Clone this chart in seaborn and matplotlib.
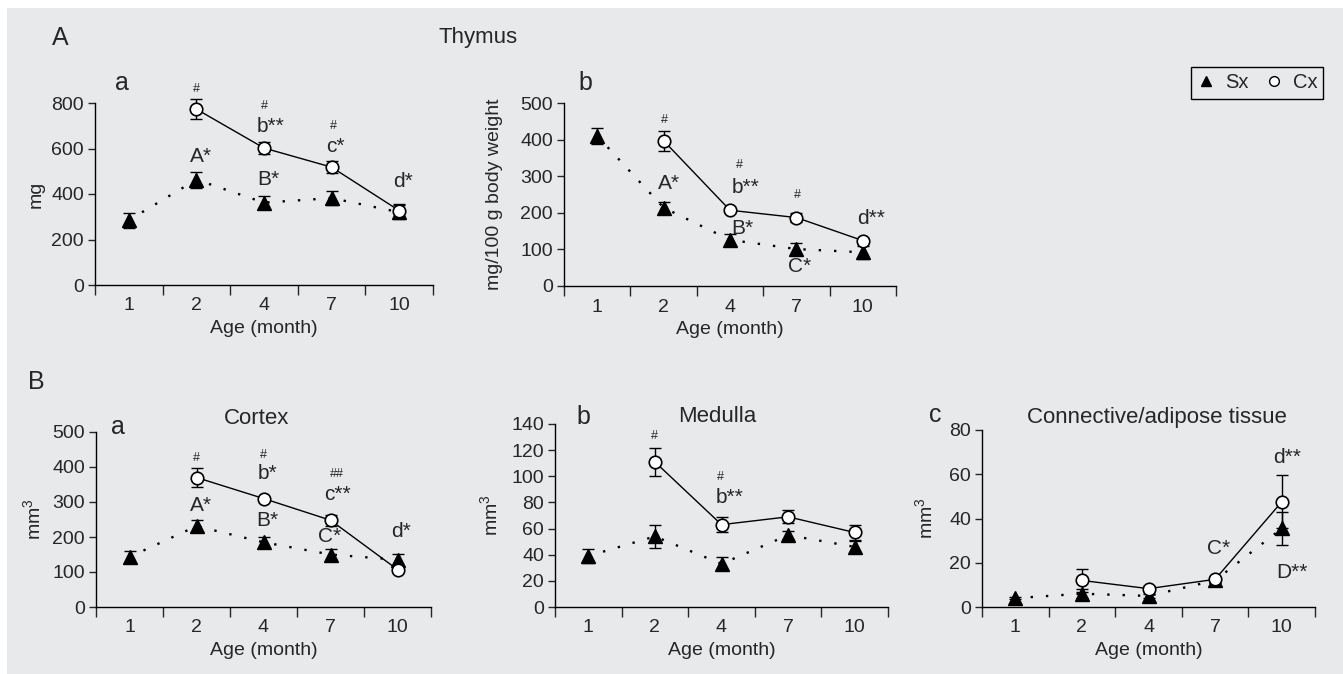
import numpy as np
import pandas as pd
import seaborn as sns
import matplotlib.pyplot as plt
from matplotlib.lines import Line2D
from matplotlib.patches import Rectangle

sns.set_style("ticks")
plt.rcParams['font.family'] = ['Liberation Sans', 'DejaVu Sans']
plt.rcParams['mathtext.fontset'] = 'custom'
plt.rcParams['mathtext.rm'] = 'Liberation Sans'

# Data
months = ["1", "2", "4", "7", "10"]

# A a: thymus weight (mg)
thy_sx = [285, 463, 362, 382, 320]
thy_sx_err = [33, 35, 30, 32, 30]
thy_cx = [np.nan, 773, 602, 518, 327]
thy_cx_err = [np.nan, 44, 25, 27, 30]

# A b: relative thymus weight (mg/100 g body weight)
rel_sx = [410, 214, 126, 101, 92]
rel_sx_err = [22, 16, 16, 17, 17]
rel_cx = [np.nan, 397, 207, 187, 124]
rel_cx_err = [np.nan, 27, 5, 12, 6]

# B a: cortex (mm3)
cor_sx = [143, 231, 185, 150, 135]
cor_sx_err = [18, 18, 16, 17, 17]
cor_cx = [np.nan, 370, 310, 248, 107]
cor_cx_err = [np.nan, 26, 5, 16, 8]

# B b: medulla (mm3)
med_sx = [39, 54, 33, 55, 46]
med_sx_err = [5.5, 9, 5, 3, 4.5]
med_cx = [np.nan, 111, 63, 69, 57]
med_cx_err = [np.nan, 11, 5.5, 5, 5.5]

# B c: connective/adipose tissue (mm3)
con_sx = [4, 6, 5, 12, 35.5]
con_sx_err = [0.5, 2, 1, 1, 7.5]
con_cx = [np.nan, 12, 8.3, 12.5, 47.5]
con_cx_err = [np.nan, 5, 1, 1, 12]

bg = '#e8e9eb'
W, H = 1343, 674
fig = plt.figure(figsize=(W / 100, H / 100), dpi=100)
fig.patch.set_facecolor('white')
fig.patches.append(Rectangle((7 / W, 0), 1, 1 - 8 / H, transform=fig.transFigure,
                             facecolor=bg, edgecolor='none', zorder=-10))


def px_axes(x0, x1, ytop, ybot):
    return fig.add_axes([x0 / W, 1 - ybot / H, (x1 - x0) / W, (ybot - ytop) / H])


def draw_panel(ax, sx, sx_err, cx, cx_err, top, step, ylabel, labelpad):
    pos = np.arange(len(months))
    df = pd.DataFrame({'pos': np.concatenate([pos, pos]),
                       'value': list(sx) + list(cx),
                       'group': ['Sx'] * len(months) + ['Cx'] * len(months)})
    ax.errorbar(pos, sx, yerr=sx_err, fmt='none', ecolor='black', elinewidth=1,
                capsize=4, capthick=1, zorder=2)
    ax.errorbar(pos, cx, yerr=cx_err, fmt='none', ecolor='black', elinewidth=1,
                capsize=4, capthick=1, zorder=2)
    sns.lineplot(data=df[df.group == 'Sx'], x='pos', y='value', ax=ax, errorbar=None,
                 legend=False, color='black', marker='^', markersize=10,
                 markeredgecolor='black', markeredgewidth=1,
                 linestyle=(0, (1, 5.5)), linewidth=1.7, zorder=3)
    sns.lineplot(data=df[df.group == 'Cx'], x='pos', y='value', ax=ax, errorbar=None,
                 legend=False, color='black', marker='o', markersize=9,
                 markerfacecolor='white', markeredgecolor='black', markeredgewidth=1.2,
                 linestyle='-', linewidth=1, zorder=4)
    for art in ax.lines + ax.collections:
        art.set_clip_on(False)
    ax.set_facecolor('none')
    ax.set_xlim(-0.5, len(months) - 0.5)
    ax.set_ylim(0, top)
    ax.set_yticks(np.arange(0, top + step / 2, step))
    ax.set_xticks(np.arange(-0.5, len(months), 1.0))
    ax.set_xticklabels([])
    ax.set_xticks(pos, minor=True)
    ax.set_xticklabels(months, minor=True)
    ax.tick_params(axis='x', which='major', direction='out', length=7, width=1)
    ax.tick_params(axis='x', which='minor', length=0, pad=9, labelsize=14)
    ax.tick_params(axis='y', direction='out', length=5, width=1, pad=3, labelsize=14)
    for s in ['top', 'right']:
        ax.spines[s].set_visible(False)
    for s in ['left', 'bottom']:
        ax.spines[s].set_linewidth(1)
        ax.spines[s].set_color('black')
    ax.set_xlabel('Age (month)', fontsize=14, labelpad=4)
    ax.set_ylabel(ylabel, fontsize=14, labelpad=labelpad)


def note(ax, x, y, s, size=15):
    ax.text(x, y, s, fontsize=size, ha='center', va='center', clip_on=False)


mm3 = r'$\mathregular{mm^3}$'

# ---- A a
ax = px_axes(95, 433, 103, 285)
draw_panel(ax, thy_sx, thy_sx_err, thy_cx, thy_cx_err, 800, 200, 'mg', 4.5)
note(ax, 1.0, 862, '#', 9)
note(ax, 2.0, 788, '#', 9)
note(ax, 2.1, 697, 'b**')
note(ax, 3.02, 700, '#', 9)
note(ax, 3.05, 609, 'c*')
note(ax, 4.05, 455, 'd*')
note(ax, 1.07, 565, 'A*')
note(ax, 2.06, 462, 'B*')
fig.text(122 / W, 1 - 83 / H, 'a', fontsize=18, ha='center', va='center')

# ---- A b
ax = px_axes(564, 896, 103, 286)
draw_panel(ax, rel_sx, rel_sx_err, rel_cx, rel_cx_err, 500, 100,
           'mg/100 g body weight', 12)
note(ax, 1.02, 454, '#', 9)
note(ax, 1.08, 279, 'A*')
note(ax, 2.14, 331, '#', 9)
note(ax, 2.24, 270, 'b**')
note(ax, 2.19, 157, 'B*')
note(ax, 3.02, 249, '#', 9)
note(ax, 3.05, 52, 'C*')
note(ax, 4.12, 185, 'd**')
fig.text(585 / W, 1 - 83 / H, 'b', fontsize=18, ha='center', va='center')

# ---- B a
ax = px_axes(96, 431, 432, 607)
draw_panel(ax, cor_sx, cor_sx_err, cor_cx, cor_cx_err, 500, 100, mm3, 6)
note(ax, 1.0, 426, '#', 9)
note(ax, 1.06, 290, 'A*')
note(ax, 2.0, 435, '#', 9)
note(ax, 2.06, 381, 'b*')
note(ax, 2.06, 248, 'B*')
note(ax, 3.1, 379, '##', 9)
note(ax, 3.1, 321, 'c**')
note(ax, 2.98, 200, 'C*')
note(ax, 4.05, 216, 'd*')
ax.text(1.9, 538, 'Cortex', fontsize=16, ha='center', va='center')
fig.text(118 / W, 1 - 427 / H, 'a', fontsize=18, ha='center', va='center')

# ---- B b
ax = px_axes(555, 888, 424, 607)
draw_panel(ax, med_sx, med_sx_err, med_cx, med_cx_err, 140, 20, mm3, 7)
note(ax, 1.0, 131, '#', 9)
note(ax, 1.99, 99.6, '#', 9)
note(ax, 2.12, 84, 'b**')
fig.text(717 / W, 1 - 417 / H, 'Medulla', fontsize=16, ha='center', va='center')
fig.text(583 / W, 1 - 417 / H, 'b', fontsize=18, ha='center', va='center')

# ---- B c
ax = px_axes(982, 1315, 430, 607)
draw_panel(ax, con_sx, con_sx_err, con_cx, con_cx_err, 80, 20, mm3, 9)
note(ax, 3.05, 26.4, 'C*')
note(ax, 4.08, 67.5, 'd**')
note(ax, 4.15, 15.8, 'D**')
fig.text(1157 / W, 1 - 417 / H, 'Connective/adipose tissue', fontsize=16,
         ha='center', va='center')
fig.text(935 / W, 1 - 415 / H, 'c', fontsize=18, ha='center', va='center')

# ---- headers
fig.text(60 / W, 1 - 38 / H, 'A', fontsize=18, ha='center', va='center')
fig.text(478 / W, 1 - 37 / H, 'Thymus', fontsize=16, ha='center', va='center')
fig.text(36 / W, 1 - 382 / H, 'B', fontsize=18, ha='center', va='center')

handles = [Line2D([], [], ls='none', marker='^', color='black', markersize=7.5),
           Line2D([], [], ls='none', marker='o', markerfacecolor='white',
                  markeredgecolor='black', markersize=7, markeredgewidth=1)]
leg = fig.legend(handles, ['Sx', 'Cx'], loc='center',
                 bbox_to_anchor=(1257 / W, 1 - 83 / H), ncol=2, frameon=True,
                 fancybox=False, edgecolor='black', facecolor=bg, framealpha=1,
                 handlelength=0.9, handletextpad=0.5, columnspacing=0.8,
                 borderpad=0.3, fontsize=14.5)
leg.get_frame().set_linewidth(1)

fig.savefig('out.png', dpi=100, facecolor='white')
